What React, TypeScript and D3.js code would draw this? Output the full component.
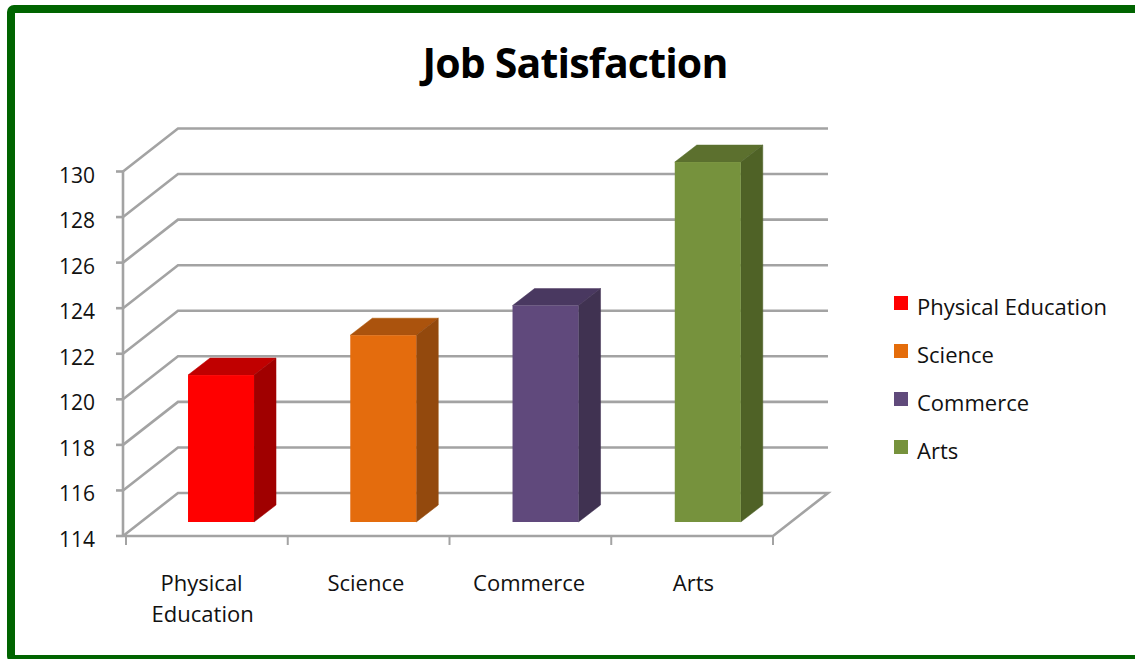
import React from "react";
import * as d3 from "d3";

const categories = ["Physical Education", "Science", "Commerce", "Arts"];
const values = [120.45, 122.2, 123.5, 129.8];
const yTicks = [114, 116, 118, 120, 122, 124, 126, 128, 130];
const frontColors = ["#ff0000", "#e46c0a", "#604a7b", "#76923c"];
const topColors = ["#c00000", "#ab5208", "#4a3960", "#5b702e"];
const sideColors = ["#a00000", "#93490a", "#3f3151", "#4f6228"];
const axisLines = [["Physical", "Education"], ["Science"], ["Commerce"], ["Arts"]];
const labelShift = [-3, -1, 0, 2];

const font = "'Open Sans', sans-serif";
const grey = "#a3a3a3";

// wall offset of the fake 3d box, and bar depth inside it
const wallDx = 55;
const wallDy = -43;
const barDx = 22;
const barDy = -17;
const floorDy = -14;

const y = d3.scaleLinear().domain([114, 130]).range([536, 171.5]);
const x = d3.scaleBand().domain(categories).range([126, 773]);
// bars step a little wider than the axis ticks in the picture
const barX = d3.scaleBand().domain(categories).range([127.5, 776.5]);
const barWidth = 66;

export default function App() {
  const yLeft = 123;
  const xRight = 773;
  return (
    <svg
      width={1135}
      height={659}
      style={{ position: "absolute", left: 0, top: 0, background: "#fff" }}
    >
      <defs>
        <filter id="soft" x="-5%" y="-5%" width="110%" height="110%">
          <feGaussianBlur stdDeviation="0.5" />
        </filter>
      </defs>
      <rect x={11} y={9} width={1150} height={650} rx={3} fill="none" stroke="#006400" strokeWidth={8} />
      <text
        x={575}
        y={78}
        textAnchor="middle"
        fontFamily={font}
        fontWeight={700}
        fontSize={41}
        letterSpacing={-0.8}
        fill="#000"
      >
        Job Satisfaction
      </text>

      <g filter="url(#soft)">
        {yTicks.map((t) => (
          <g key={t} stroke={grey} strokeWidth={2.6} fill="none">
            {t === 114 ? (
              <path d={d3.line()([[yLeft, y(t)], [yLeft + wallDx, y(t) + wallDy], [xRight + wallDx, y(t) + wallDy], [xRight, y(t)], [yLeft, y(t)]]) || ""} />
            ) : (
              <path d={d3.line()([[yLeft, y(t)], [yLeft + wallDx, y(t) + wallDy], [xRight + wallDx, y(t) + wallDy]]) || ""} />
            )}
            <line x1={yLeft - 7} x2={yLeft} y1={y(t)} y2={y(t)} />
          </g>
        ))}
        <line x1={yLeft} x2={yLeft} y1={y(114)} y2={y(130)} stroke={grey} strokeWidth={2.6} />
        {[...categories.map((c) => x(c) as number), 773].map((tx) => (
          <line key={tx} x1={tx} x2={tx} y1={y(114)} y2={y(114) + 9} stroke={grey} strokeWidth={2} />
        ))}

        {categories.map((c, i) => {
          const x0 = (barX(c) as number) + barX.bandwidth() / 2 + 12.4 - barWidth / 2;
          const x1 = x0 + barWidth;
          const base = y(114) + floorDy;
          const top = base - (y(114) - y(values[i]));
          return (
            <g key={c}>
              <polygon
                fill={topColors[i]}
                stroke={topColors[i]}
                strokeWidth={0.5}
                points={[[x0, top], [x0 + barDx, top + barDy], [x1 + barDx, top + barDy], [x1, top]].join(" ")}
              />
              <polygon
                fill={sideColors[i]}
                stroke={sideColors[i]}
                strokeWidth={0.5}
                points={[[x1, top], [x1 + barDx, top + barDy], [x1 + barDx, base + barDy], [x1, base]].join(" ")}
              />
              <rect x={x0} y={top} width={barWidth} height={base - top} fill={frontColors[i]} />
            </g>
          );
        })}
      </g>

      {yTicks.map((t) => (
        <text key={t} x={95} y={y(t) + 11} textAnchor="end" fontFamily={font} fontSize={21} fill="#111">
          {t}
        </text>
      ))}
      {categories.map((c, i) => (
        <text key={c} textAnchor="middle" fontFamily={font} fontSize={22} fill="#111">
          {axisLines[i].map((l, j) => (
            <tspan key={l} x={(barX(c) as number) + barX.bandwidth() / 2 + labelShift[i] - 4 + j} y={591 + j * 31}>
              {l}
            </tspan>
          ))}
        </text>
      ))}
      {categories.map((c, i) => (
        <g key={c}>
          <rect x={894} y={296 + i * 48} width={14} height={14} fill={frontColors[i]} />
          <text x={917} y={314.6 + i * 48.1} fontFamily={font} fontSize={22} fill="#111">
            {c}
          </text>
        </g>
      ))}
    </svg>
  );
}
